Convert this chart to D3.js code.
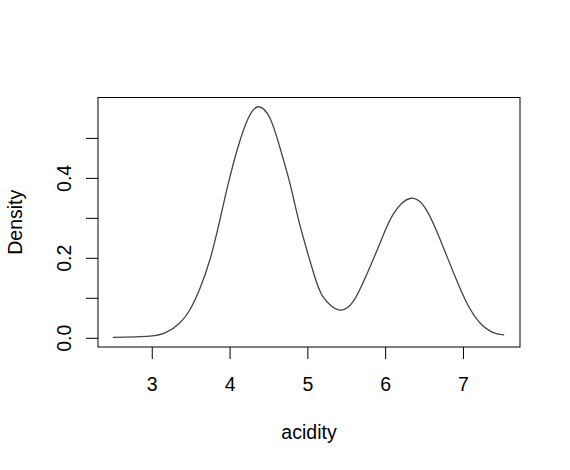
<!DOCTYPE html>
<html lang="en">
    <head>
        <meta charset="UTF-8">
        <script src="https://d3js.org/d3.v7.min.js"></script>
        <style>
            body { margin: 0; background: #fff; }
            text { font-family: "Liberation Sans", Arial, sans-serif; font-size: 19.5px; fill: #000; }
            .axis line { stroke: #000; stroke-width: 1; }
            .box { fill: none; stroke: #000; stroke-width: 1; }
            .density { fill: none; stroke: #444; stroke-width: 1.3; }
        </style>
    </head>
    <body>
        <svg width="570" height="470"></svg>

        <script>
            // density estimate of acidity
            const acidity = [2.50, 2.97, 3.19, 3.36, 3.49, 3.62, 3.75, 3.87, 3.98, 4.11,
                             4.24, 4.37, 4.52, 4.65, 4.78, 4.90, 5.08, 5.20, 5.40, 5.59,
                             5.76, 5.93, 6.10, 6.33, 6.53, 6.70, 6.88, 7.05, 7.22, 7.39,
                             7.53];
            const density = [0.001, 0.004, 0.014, 0.037, 0.070, 0.124, 0.197, 0.290, 0.383, 0.478,
                             0.549, 0.578, 0.549, 0.474, 0.383, 0.285, 0.162, 0.103, 0.070, 0.091,
                             0.157, 0.235, 0.308, 0.349, 0.320, 0.249, 0.162, 0.087, 0.037, 0.013,
                             0.007];

            const xTicks = [3, 4, 5, 6, 7];
            const yTicks = [0, 0.1, 0.2, 0.3, 0.4, 0.5];
            const yTickLabels = ["0.0", "", "0.2", "", "0.4", ""];

            // plot region (R style margins)
            const plot = { left: 98, right: 520, top: 97.5, bottom: 347 };

            const x = d3.scaleLinear().domain([2.309, 7.733]).range([plot.left, plot.right]);
            const y = d3.scaleLinear().domain([-0.0231, 0.6011]).range([plot.bottom, plot.top]);

            const svg = d3.select("svg");

            // curve
            const line = d3.line()
                .x((d, i) => x(acidity[i]))
                .y(d => y(d))
                .curve(d3.curveNatural);

            svg.append("path")
                .datum(density)
                .attr("class", "density")
                .attr("d", line);

            // box around the plot
            svg.append("rect")
                .attr("class", "box")
                .attr("x", plot.left)
                .attr("y", plot.top)
                .attr("width", plot.right - plot.left)
                .attr("height", plot.bottom - plot.top);

            // x axis
            const gx = svg.append("g")
                .attr("class", "axis")
                .attr("transform", `translate(0,${plot.bottom})`)
                .call(d3.axisBottom(x).tickValues(xTicks).tickSize(12).tickFormat(d3.format("d")));
            gx.select(".domain").remove();
            gx.selectAll("text")
                .attr("y", 44)
                .attr("dy", 0)
                .style("font-size", "19.5px")
                .style("font-family", null);

            // y axis
            const gy = svg.append("g")
                .attr("class", "axis")
                .attr("transform", `translate(${plot.left},0)`)
                .call(d3.axisLeft(y).tickValues(yTicks).tickSize(12).tickFormat((d, i) => yTickLabels[i]));
            gy.select(".domain").remove();
            gy.selectAll("text")
                .attr("transform", "rotate(-90)")
                .attr("x", 0)
                .attr("y", -27.5)
                .attr("dy", 0)
                .attr("text-anchor", "middle")
                .style("font-size", "19.5px")
                .style("font-family", null);

            // axis titles
            svg.append("text")
                .attr("x", (plot.left + plot.right) / 2)
                .attr("y", 439)
                .attr("text-anchor", "middle")
                .text("acidity");

            svg.append("text")
                .attr("transform", `translate(22,${(plot.top + plot.bottom) / 2}) rotate(-90)`)
                .attr("text-anchor", "middle")
                .text("Density");
        </script>
    </body>
</html>
